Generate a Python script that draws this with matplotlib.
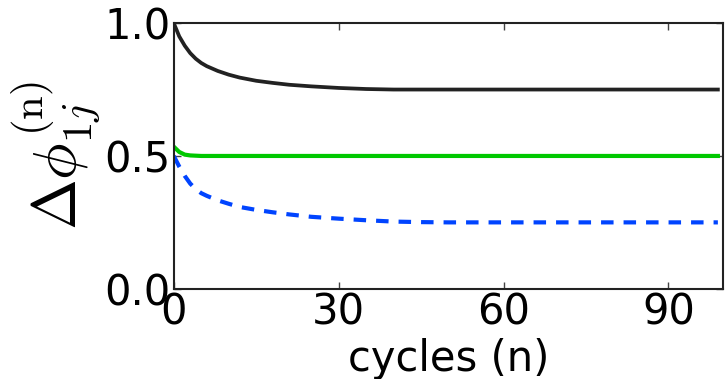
import numpy as np
import matplotlib
matplotlib.use("Agg")
import matplotlib.pyplot as plt

# values (cycle index -> phase difference)
n_pts = [0, 1, 2, 3, 4, 5, 6, 8, 10, 12, 15, 18, 21, 25, 30, 35, 40, 45, 50, 60, 70, 80, 90, 99]
black = [1.0, 0.95, 0.915, 0.887, 0.866, 0.85, 0.838, 0.82, 0.806, 0.795, 0.783, 0.775,
         0.768, 0.762, 0.756, 0.752, 0.75, 0.75, 0.75, 0.75, 0.75, 0.75, 0.75, 0.75]
green = [0.535, 0.515, 0.505, 0.502, 0.501, 0.5, 0.5, 0.5, 0.5, 0.5, 0.5, 0.5,
         0.5, 0.5, 0.5, 0.5, 0.5, 0.5, 0.5, 0.5, 0.5, 0.5, 0.5, 0.5]
blue = [0.5, 0.46, 0.425, 0.396, 0.375, 0.36, 0.35, 0.333, 0.32, 0.308, 0.297, 0.288,
        0.28, 0.271, 0.264, 0.258, 0.253, 0.251, 0.25, 0.25, 0.25, 0.25, 0.25, 0.25]
xticks = [0, 30, 60, 90]
yticks = [0.0, 0.5, 1.0]

plt.rcParams['mathtext.fontset'] = 'cm'

fig = plt.figure(figsize=(7.27, 3.79), dpi=100)
ax = fig.add_axes([0.239, 0.238, 0.756, 0.701])

ax.plot(n_pts, black, color='#222222', lw=2.7)
ax.plot(n_pts, green, color='#00c800', lw=3)
ax.plot(n_pts, blue, color='#0044ff', lw=3, ls='--', dashes=(3, 2.4))

ax.set_xlim(0, 100)
ax.set_ylim(0, 1)
ax.set_xticks(xticks)
ax.set_yticks(yticks)
ax.set_yticklabels(['0.0', '0.5', '1.0'])
ax.tick_params(direction='in', length=5, width=1, color='#444444', labelsize=30,
               top=True, right=True, pad=2)
for s in ax.spines.values():
    s.set_linewidth(1.5)
    s.set_color('#222222')

ax.set_xlabel('cycles (n)', fontsize=30, labelpad=3)
ax.set_ylabel(r'$\Delta\phi_{1j}^{(\mathrm{n})}$', fontsize=44, labelpad=2)

fig.savefig('out.png', dpi=100)
